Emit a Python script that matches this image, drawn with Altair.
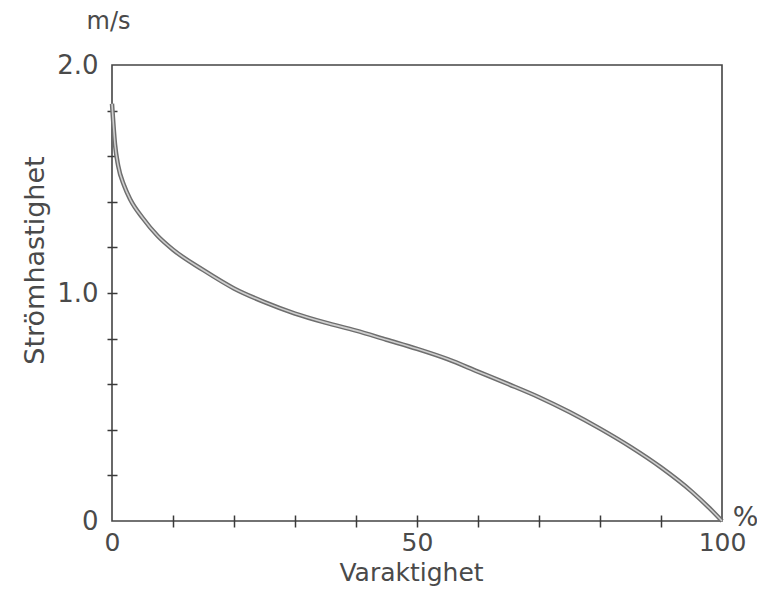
import altair as alt
import pandas as pd

# Varaktighet (%) and Strömhastighet (m/s)
varaktighet = [0, 0.5, 1, 2, 3, 5, 7.5, 10, 15, 20, 25, 30, 35, 40, 45, 50,
               55, 60, 65, 70, 75, 80, 85, 90, 95, 98, 100]
stromhastighet = [1.83, 1.65, 1.56, 1.47, 1.41, 1.33, 1.25, 1.19, 1.10, 1.02,
                  0.96, 0.91, 0.87, 0.835, 0.795, 0.755, 0.71, 0.655, 0.60, 0.543,
                  0.478, 0.405, 0.325, 0.235, 0.13, 0.055, 0.0]

x_labels = [0, 50, 100]
x_ticks = [10, 20, 30, 40, 50, 60, 70, 80, 90]
y_labels = [0, 1.0, 2.0]
y_ticks = [0.2, 0.4, 0.6, 0.8, 1.0, 1.2, 1.4, 1.6, 1.8]

df = pd.DataFrame({"x": varaktighet, "y": stromhastighet})

FONT = "DejaVu Sans"
TXT = "#4a4a4a"
AX = "#3a3a3a"

xs = alt.Scale(domain=[0, 100], nice=False)
ys = alt.Scale(domain=[0, 2], nice=False)

base = alt.Chart(df)

main = base.mark_line(color="#6e6e6e", strokeWidth=4.5, interpolate="monotone").encode(
    x=alt.X("x:Q", scale=xs, axis=alt.Axis(
        orient="bottom", values=x_labels, ticks=False, domain=False, grid=False,
        labelFontSize=25, labelFont=FONT, labelColor=TXT, labelPadding=9,
        labelFlush=False,
        title="Varaktighet", titleFont=FONT, titleFontSize=25, titleFontWeight="normal",
        titleColor=TXT, titleX=299, titleY=51, titleBaseline="middle", titleAlign="center")),
    y=alt.Y("y:Q", scale=ys, axis=alt.Axis(
        orient="left", values=y_labels, ticks=False, domain=False, grid=False,
        labelExpr="datum.value == 0 ? '0' : format(datum.value, '.1f')",
        labelFontSize=26, labelFont=FONT, labelColor=TXT, labelPadding=14,
        labelFlush=False,
        title="Strömhastighet", titleFont=FONT, titleFontSize=27, titleFontWeight="normal",
        titleColor=TXT, titleX=-77, titleY=195, titleAngle=-90,
        titleBaseline="middle", titleAlign="center")),
)

ticks_layer = base.mark_line(color="#cfcfcf", strokeWidth=1.6, interpolate="monotone").encode(
    x=alt.X("x:Q", scale=xs, axis=alt.Axis(
        orient="bottom", values=x_ticks, ticks=True, tickSize=12, offset=-6,
        tickColor=AX, tickWidth=1.5, labels=False, domain=False, grid=False,
        title="%", titleFont=FONT, titleFontSize=27, titleFontWeight="normal",
        titleColor=TXT, titleX=633, titleY=2, titleBaseline="middle", titleAlign="center")),
    y=alt.Y("y:Q", scale=ys, axis=alt.Axis(
        orient="left", values=y_ticks, ticks=True, tickSize=10, offset=-5,
        tickColor=AX, tickWidth=1.5, labels=False, domain=False, grid=False,
        title="m/s", titleFont=FONT, titleFontSize=24, titleFontWeight="normal",
        titleColor=TXT, titleX=-9, titleY=-44, titleAngle=0,
        titleBaseline="middle", titleAlign="center")),
)

chart = alt.layer(main, ticks_layer).resolve_axis(x="independent", y="independent").properties(
    width=610, height=456,
    autosize=alt.AutoSizeParams(type="none"),
    padding={"left": 104, "top": 57, "right": 35, "bottom": 65},
).configure(background="white").configure_view(stroke="#444444", strokeWidth=1.6)

chart.save("out.html", embed_options={"renderer": "svg", "actions": False})
